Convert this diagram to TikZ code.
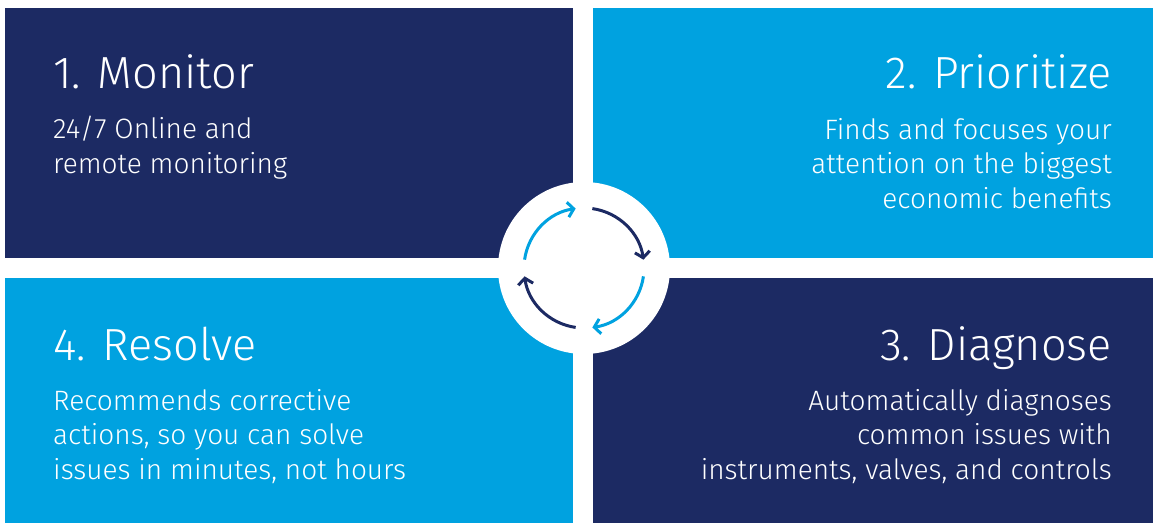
\documentclass[tikz,border=0pt]{standalone}
\usepackage{fontspec}
\setmainfont{Fira Sans}[UprightFont=* Light]
\usetikzlibrary{arrows.meta}
\definecolor{navy}{RGB}{28,42,99}
\definecolor{sky}{RGB}{0,162,224}
\tikzset{
  title/.style={text=white,inner sep=0pt,font=\fontsize{45}{45}\selectfont},
  body/.style={text=white,inner sep=0pt,font=\fontsize{28}{34.5}\selectfont},
  cyc/.style={line width=3pt,-{Straight Barb[length=6pt,width=15pt,line width=3pt]}}
}
\begin{document}
\begin{tikzpicture}[x=1pt,y=-1pt]
\fill[white] (0,0) rectangle (1153,523);
\useasboundingbox (0,0) rectangle (1153,523);
\fill[navy] (5,8) rectangle (573,258);
\fill[sky] (593,8) rectangle (1153,258);
\fill[sky] (5,278) rectangle (573,523);
\fill[navy] (593,278) rectangle (1153,523);
\coordinate (c) at (584,268);
\fill[white] (c) circle[radius=86];
% titles
\node[title,anchor=base west] (t1) at (53,88) {1. Monitor};
\node[title,anchor=base east] (t2) at (1112,88) {2. Prioritize};
\node[title,anchor=base west] (t4) at (53,360) {4. Resolve};
\node[title,anchor=base east] (t3) at (1112,360) {3. Diagnose};
% bodies (base anchor = baseline of last line)
\node[body,anchor=base west,align=left] (b1) at (53,173) {24/7 Online and\\remote monitoring};
\node[body,anchor=base east,align=right] (b2) at (1112,208) {Finds and focuses your\\attention on the biggest\\economic benefits};
\node[body,anchor=base west,align=left] (b4) at (53,479) {Recommends corrective\\actions, so you can solve\\issues in minutes, not hours};
\node[body,anchor=base east,align=right] (b3) at (1112,479) {Automatically diagnoses\\common issues with\\instruments, valves, and controls};
% cycle arrows
\draw[cyc,sky]  (c) ++(-172:60) arc[start angle=-172,end angle=-98,radius=60];
\draw[cyc,navy] (c) ++(-82:60) arc[start angle=-82,end angle=-8,radius=60];
\draw[cyc,sky]  (c) ++(8:60) arc[start angle=8,end angle=82,radius=60];
\draw[cyc,navy] (c) ++(98:60) arc[start angle=98,end angle=172,radius=60];
\end{tikzpicture}
\end{document}
